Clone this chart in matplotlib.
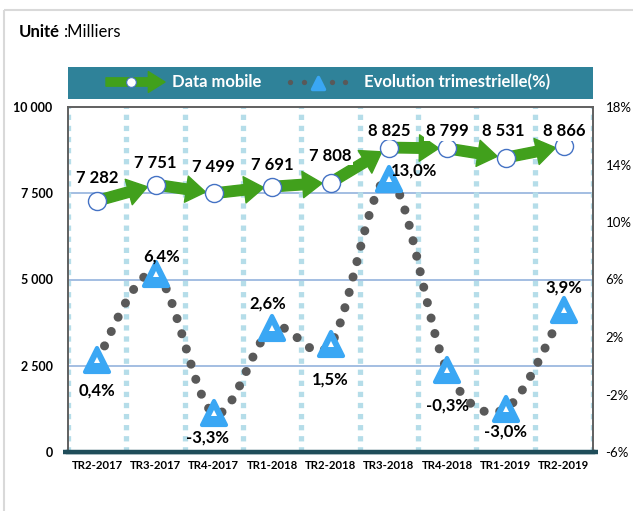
import numpy as np
import matplotlib
matplotlib.use('Agg')
import matplotlib.pyplot as plt
from matplotlib.patches import FancyArrowPatch, PathPatch, Rectangle, ArrowStyle
from matplotlib.path import Path
from matplotlib.markers import MarkerStyle

categories = ['TR2-2017', 'TR3-2017', 'TR4-2017', 'TR1-2018', 'TR2-2018',
              'TR3-2018', 'TR4-2018', 'TR1-2019', 'TR2-2019']
data_mobile = [7282, 7751, 7499, 7691, 7808, 8825, 8799, 8531, 8866]
evolution = [0.4, 6.4, -3.3, 2.6, 1.5, 13.0, -0.3, -3.0, 3.9]
left_ticks = [0, 2500, 5000, 7500, 10000]
left_tick_labels = ['0', '2 500', '5 000', '7 500', '10 000']
right_ticks = [-6, -2, 2, 6, 10, 14, 18]
right_tick_labels = ['-6%', '-2%', '2%', '6%', '10%', '14%', '18%']
series_names = ['Data mobile', 'Evolution trimestrielle(%)']

# label offsets in pixels (dx, dy up)
val_off = [(0, 23), (0, 22), (0, 26), (0, 22), (0, 27), (0, 17), (0, 17), (-2, 27), (0, 15)]
pct_off = [(0, -31), (6, 17), (-6, -24), (-4, 25), (0, -35), (25, 8), (0, -35), (0, -23), (0, 22)]

FONT = ['Lato', 'DejaVu Sans']
plt.rcParams['font.family'] = FONT

W, H = 633, 511
fig = plt.figure(figsize=(W / 100, H / 100), dpi=100)
fig.patch.set_facecolor('white')

GREEN = '#41a01c'
BLUE_TRI = '#3aa7f4'
DOT = '#595959'
TEAL = '#2f8299'
MARK_EDGE = '#4472c4'
VLINE = '#b5dde9'
GRID = '#94b3dd'
AXIS_DARK = '#1f4d5a'
TRI = MarkerStyle('^', joinstyle='round')

# overlay in pixel coords
ov = fig.add_axes([0, 0, 1, 1], zorder=0)
ov.set_xlim(0, W)
ov.set_ylim(H, 0)
ov.axis('off')
ov.plot([4, W], [10, 10], color='#d9d9d9', lw=1.5, solid_capstyle='butt')
ov.plot([4, 4], [10, H], color='#d9d9d9', lw=1.5, solid_capstyle='butt')
ov.plot([63, 598], [452, 452], color=AXIS_DARK, lw=3.2, solid_capstyle='butt')
t1 = ov.text(19, 32, 'Unité', fontsize=12, fontweight='bold', va='center', ha='left')
renderer = fig.canvas.get_renderer()
bb = t1.get_window_extent(renderer)
ov.text(bb.x1 + 4, 32, ':Milliers', fontsize=12, va='center', ha='left')

# legend
ov.add_patch(Rectangle((68, 67), 525, 32, facecolor=TEAL, edgecolor='none'))
ov.add_patch(FancyArrowPatch((106, 82), (165, 82),
                             arrowstyle=ArrowStyle.Simple(head_length=12, head_width=15, tail_width=6),
                             mutation_scale=1, color=GREEN, shrinkA=0, shrinkB=0))
ov.plot([131], [82], 'o', ms=7, mfc='white', mec=MARK_EDGE, mew=0.8)
ov.text(172, 82, series_names[0], color='white', fontsize=12, fontweight='bold', va='center', ha='left')
ov.plot([290, 304, 318, 332, 345], [82] * 5, 'o', ms=3.8, color=DOT, mew=0)
ov.plot([318], [83], marker=TRI, ms=9, color=BLUE_TRI, mec=BLUE_TRI, mew=2.5, ls='none')
ov.text(364, 82, series_names[1], color='white', fontsize=12, fontweight='bold', va='center', ha='left')

# main axes
L, R, T, B = 68, 593, 107, 452
ax = fig.add_axes([L / W, 1 - B / H, (R - L) / W, (B - T) / H], zorder=2)
ax.set_xlim(-0.5, len(categories) - 0.5)
ax.set_ylim(0, 10000)
ax.set_yticks(left_ticks)
ax.set_yticklabels(left_tick_labels, fontsize=9, fontweight='bold')
ax.set_xticks(range(len(categories)))
ax.set_xticklabels(categories, fontsize=8.2, fontweight='bold')
ax.tick_params(axis='both', length=0)
ax.tick_params(axis='y', pad=11)
ax.tick_params(axis='x', pad=6)
for s in ['left', 'right', 'top']:
    ax.spines[s].set_color('#606060')
    ax.spines[s].set_linewidth(1.4)
ax.spines['bottom'].set_color(AXIS_DARK)
ax.spines['bottom'].set_linewidth(3.2)
ax.spines['bottom'].set_zorder(6)

for yv in left_ticks[1:-1]:
    ax.axhline(yv, color=GRID, lw=1.2, zorder=1)
for b in np.arange(-0.5, len(categories), 1.0):
    ax.axvline(b, color=VLINE, lw=3.8, linestyle=(0, (1, 1.1)), zorder=1)

x = np.arange(len(categories))
style = ArrowStyle.Simple(head_length=14, head_width=19, tail_width=7.5)
for i in range(len(x) - 1):
    ax.add_patch(FancyArrowPatch((x[i], data_mobile[i]), (x[i + 1], data_mobile[i + 1]),
                                 arrowstyle=style, mutation_scale=1, color=GREEN,
                                 shrinkA=0, shrinkB=6, zorder=3))
ax.plot(x, data_mobile, 'o', ms=13, mfc='white', mec=MARK_EDGE, mew=1, zorder=4)
for i, v in enumerate(data_mobile):
    dx, dy = val_off[i]
    ax.annotate(f'{v:,}'.replace(',', ' '), (x[i], v), xytext=(dx * 0.72, dy * 0.72),
                textcoords='offset points', ha='center', va='center', fontsize=12,
                fontweight='bold', zorder=5,
                bbox=dict(boxstyle='square,pad=0.1', fc='white', ec='none'))

# secondary axis
ax2 = ax.twinx()
ax2.set_ylim(-6, 18)
ax2.set_yticks(right_ticks)
ax2.set_yticklabels(right_tick_labels, fontsize=9.5)
ax2.tick_params(axis='y', length=0, pad=9)
for s in ax2.spines.values():
    s.set_visible(False)

# smoothed curve (Excel-like) through evolution points via cubic Bezier
pts = np.column_stack([x, evolution]).astype(float)
verts = [tuple(pts[0])]
codes = [Path.MOVETO]
n = len(pts)
for i in range(n - 1):
    p0 = pts[i - 1] if i > 0 else pts[i]
    p1 = pts[i]
    p2 = pts[i + 1]
    p3 = pts[i + 2] if i + 2 < n else pts[i + 1]
    c1 = p1 + (p2 - p0) / 6.0
    c2 = p2 - (p3 - p1) / 6.0
    verts += [tuple(c1), tuple(c2), tuple(p2)]
    codes += [Path.CURVE4] * 3
curve = PathPatch(Path(verts, codes), facecolor='none', edgecolor=DOT, lw=6.5,
                  linestyle=(0, (0.01, 1.75)), capstyle='round', zorder=2)
ax2.add_patch(curve)
ax2.plot(x, evolution, marker=TRI, ls='none', ms=17, color=BLUE_TRI, mec=BLUE_TRI, mew=3, zorder=3)
ax2.plot(x, evolution, marker='^', ls='none', ms=4.5, color='white', mec='white', mew=0, zorder=4)
for i, p in enumerate(evolution):
    dx, dy = pct_off[i]
    ax2.annotate(f'{p:.1f}%'.replace('.', ','), (x[i], p), xytext=(dx * 0.72, dy * 0.72),
                 textcoords='offset points', ha='center', va='center', fontsize=12,
                 fontweight='bold', zorder=5)

fig.savefig('out.png', dpi=100)
